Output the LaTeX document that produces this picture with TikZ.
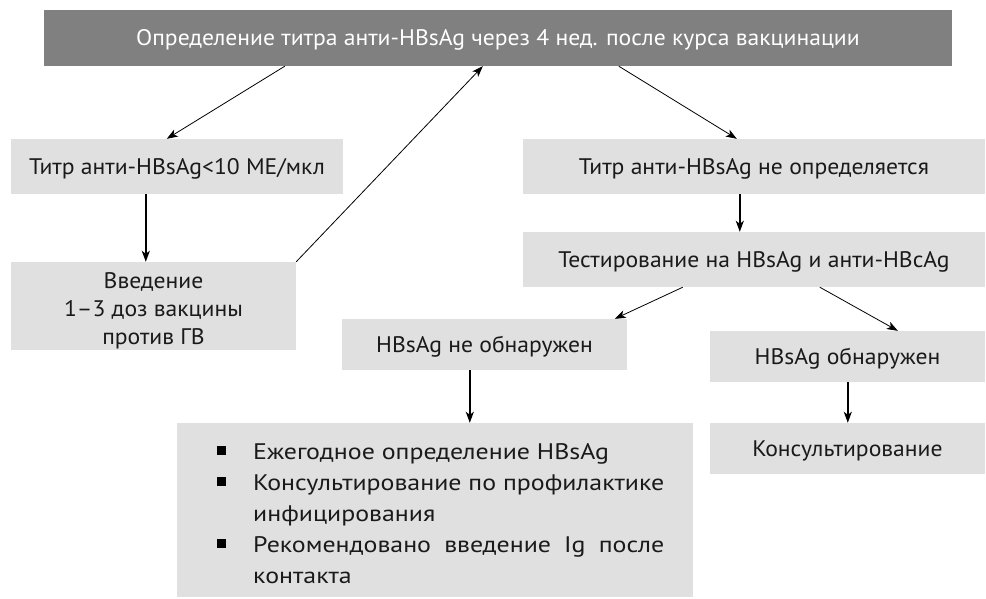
\documentclass[tikz,border=0pt]{standalone}
\usepackage{fontspec}
\setmainfont[FakeStretch=1.05]{PT Sans}
\newfontfamily\itemfont[FakeStretch=1.15]{PT Sans}
\usetikzlibrary{arrows.meta}
\definecolor{topgray}{RGB}{128,128,128}
\definecolor{boxgray}{RGB}{224,224,224}
\definecolor{txt}{RGB}{26,26,26}
\newlength\hwidth
\newcommand\bodysize{\fontsize{22.5}{28}\selectfont}
\newcommand\itemsize{\itemfont\fontsize{22.5}{28}\selectfont}
\AtBeginDocument{\settowidth{\hwidth}{\itemsize Консультирование по профилактике}}
\begin{document}
\begin{tikzpicture}[x=1pt,y=-1pt,
  box/.style={fill=boxgray, inner sep=0pt, text=txt, font=\bodysize, align=center},
  oneline/.style={text height=15.5pt, text depth=0pt},
  topbox/.style={fill=topgray, inner sep=0pt, text=white, font=\bodysize, oneline},
  itemline/.style={inner sep=0pt, text=txt, font=\itemsize, anchor=base west},
  bullet/.style={fill=black, minimum size=9pt, inner sep=0pt},
  arr/.style={-{Stealth[length=11pt,width=8pt,inset=3pt]}, line width=0.8pt, black},
  varr/.style={arr, line width=1.5pt}]
\useasboundingbox (0,0) rectangle (986,598);

\node[topbox, minimum width=908pt, minimum height=56pt] (top) at (498,38) {Определение титра анти-HBsAg через 4 нед. после курса вакцинации};
\node[box, oneline, minimum width=332pt, minimum height=55pt] (A) at (177,166.5) {Титр анти-HBsAg<10 МЕ/мкл};
\node[box, text depth=0pt, minimum width=285pt, minimum height=88pt] (B) at (153.5,306) {\rule{0pt}{21pt}Введение\\1–3 доз вакцины\\против ГВ};
\node[box, oneline, minimum width=462pt, minimum height=55pt] (C) at (754,166.5) {Титр анти-HBsAg не определяется};
\node[box, oneline, minimum width=462pt, minimum height=55pt] (D) at (754,259.5) {Тестирование на HBsAg и анти-HBcAg};
\node[box, oneline, minimum width=285pt, minimum height=51pt] (E) at (484.5,344.5) {HBsAg не обнаружен};
\node[box, oneline, minimum width=275pt, minimum height=51pt] (F) at (847.5,356.5) {HBsAg обнаружен};
\node[box, oneline, minimum width=275pt, minimum height=51pt] (G) at (847.5,448.5) {Консультирование};
\node[box, minimum width=516pt, minimum height=174pt] (H) at (435,510) {};

\node[bullet] (b1) at (221.5,450.5) {};
\node[bullet] (b2) at (221.5,481.5) {};
\node[bullet] (b3) at (221.5,543.5) {};
\node[itemline] (h1) at (253,459) {Ежегодное определение HBsAg};
\node[itemline] (h2) at (253,490) {Консультирование по профилактике};
\node[itemline] (h3) at (253,521) {инфицирования};
\node[itemline] (h4) at (253,552) {\hbox to \hwidth{Рекомендовано\hfill введение\hfill Ig\hfill после}};
\node[itemline] (h5) at (253,583) {контакта};

\draw[arr] ([xshift=241pt]top.south west) -- ([xshift=156pt]A.north west);
\draw[arr] (B.north east) -- ([xshift=439pt]top.south west);
\draw[arr] ([xshift=575pt]top.south west) -- ([xshift=214pt]C.north west);
\draw[varr] ([xshift=135pt]A.south west) -- ([xshift=135pt]B.north west);
\draw[varr] ([xshift=217pt]C.south west) -- ([xshift=217pt]D.north west);
\draw[arr] ([xshift=160pt]D.south west) -- ([xshift=273pt]E.north west);
\draw[arr] ([xshift=297pt]D.south west) -- ([xshift=188pt]F.north west);
\draw[varr] ([xshift=128pt]E.south west) -- ([xshift=293pt]H.north west);
\draw[varr] ([xshift=138pt]F.south west) -- ([xshift=138pt]G.north west);
\end{tikzpicture}
\end{document}
